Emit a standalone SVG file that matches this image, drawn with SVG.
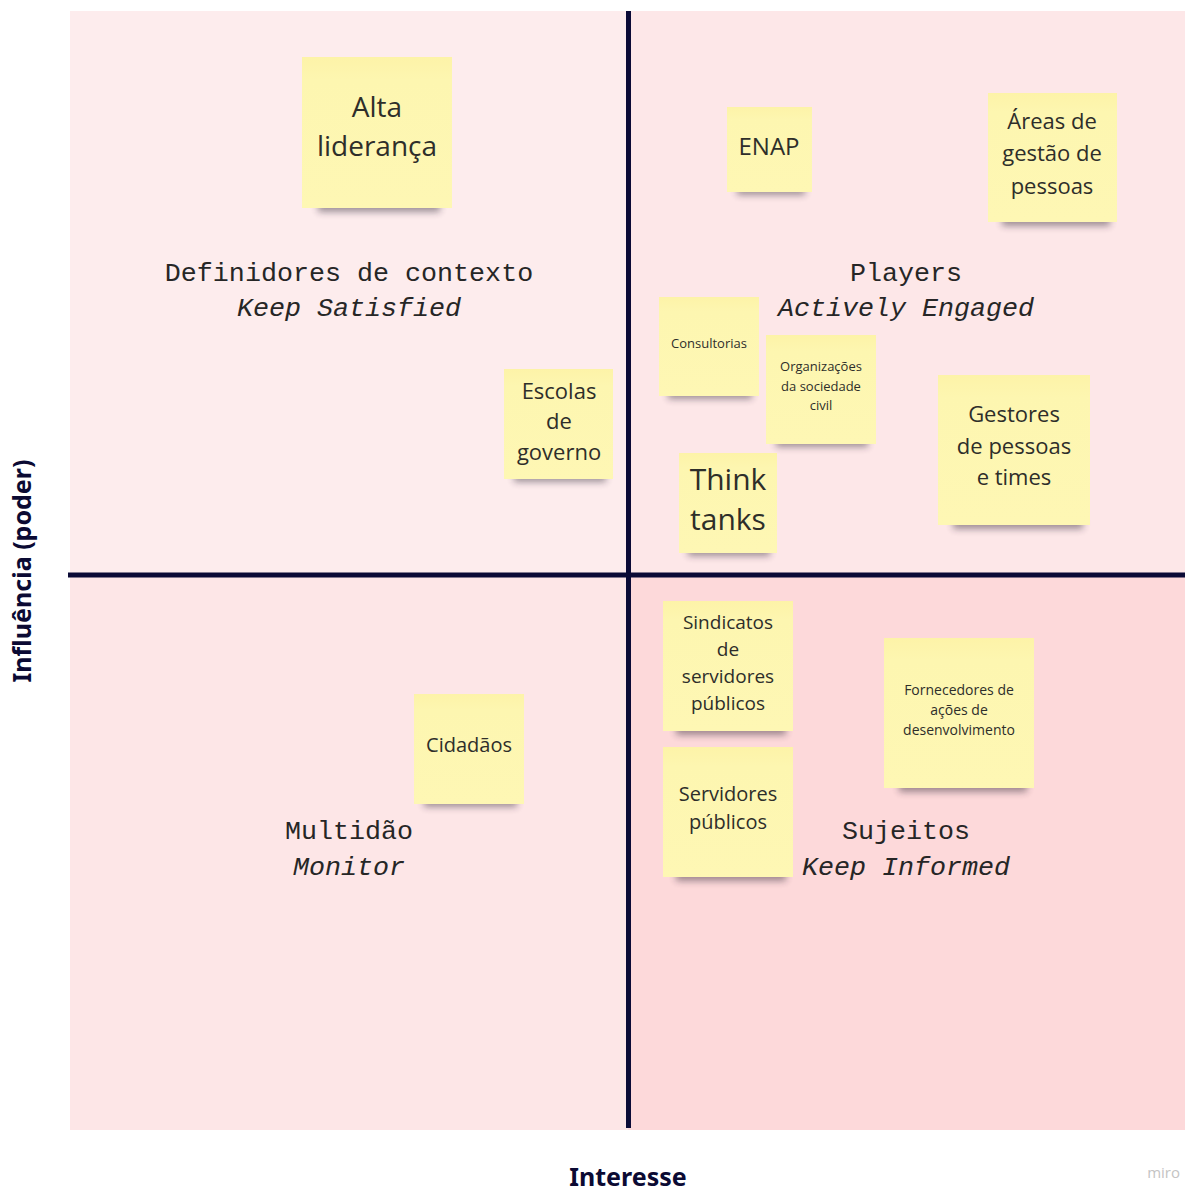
<svg xmlns="http://www.w3.org/2000/svg" width="1185" height="1192" viewBox="0 0 1185 1192">
  <defs>
    <filter id="soft" x="-20%" y="-100%" width="140%" height="300%">
      <feGaussianBlur stdDeviation="3.5"/>
    </filter>
    <linearGradient id="paper" x1="0" y1="0" x2="0" y2="1">
      <stop offset="0" stop-color="#fdf3a8"/>
      <stop offset="0.15" stop-color="#fdf6b0"/>
      <stop offset="1" stop-color="#fef7b4"/>
    </linearGradient>
    <style>
      .note { fill: url(#paper); }
      .shadow { fill: #2a2330; opacity: 0.45; filter: url(#soft); }
      .nt { font-family: "Open Sans", "Noto Sans", sans-serif; fill: #2e2e2a; text-anchor: middle; }
      .ql { font-family: "Liberation Mono", "DejaVu Sans Mono", monospace; font-size: 26.7px; fill: #262626; text-anchor: middle; }
      .qi { font-style: italic; }
      .axis { font-family: "Noto Sans", "Open Sans", sans-serif; font-weight: bold; fill: #0b0a33; text-anchor: middle; }
    </style>
  </defs>

  <rect width="1185" height="1192" fill="#ffffff"/>

  <!-- quadrants -->
  <g id="quadrants">
    <rect x="70" y="11" width="558" height="564" fill="#fdeced"/>
    <rect x="628" y="11" width="557" height="564" fill="#fde7e8"/>
    <rect x="70" y="575" width="558" height="555" fill="#fde6e7"/>
    <rect x="628" y="575" width="557" height="555" fill="#fdd9da"/>
  </g>

  <!-- axes -->
  <g id="axes" stroke="#0b0a36" stroke-width="5">
    <line x1="628.5" y1="11" x2="628.5" y2="1128"/>
    <line x1="68" y1="575" x2="1185" y2="575"/>
  </g>

  <!-- quadrant labels -->
  <g id="label-definidores">
    <text class="ql" x="349" y="281">Definidores de contexto</text>
    <text class="ql qi" x="349" y="316">Keep Satisfied</text>
  </g>
  <g id="label-players">
    <text class="ql" x="906" y="281">Players</text>
    <text class="ql qi" x="906" y="316">Actively Engaged</text>
  </g>
  <g id="label-multidao">
    <text class="ql" x="349" y="839">Multidão</text>
    <text class="ql qi" x="349" y="875">Monitor</text>
  </g>
  <g id="label-sujeitos">
    <text class="ql" x="906" y="839">Sujeitos</text>
    <text class="ql qi" x="906" y="875">Keep Informed</text>
  </g>

  <!-- sticky notes -->
  <g id="note-alta-lideranca">
    <rect class="shadow" x="318" y="200" width="122" height="12"/>
    <rect class="note" x="302" y="57" width="150" height="151"/>
    <text class="nt" x="377" y="117" font-size="28">Alta</text>
    <text class="nt" x="377" y="156" font-size="28">liderança</text>
  </g>

  <g id="note-enap">
    <rect class="shadow" x="737" y="186" width="68" height="9"/>
    <rect class="note" x="727" y="107" width="85" height="85"/>
    <text class="nt" x="769" y="155" font-size="24">ENAP</text>
  </g>

  <g id="note-areas">
    <rect class="shadow" x="1002" y="215" width="108" height="11"/>
    <rect class="note" x="988" y="93" width="129" height="129"/>
    <text class="nt" x="1052" y="129" font-size="22">Áreas de</text>
    <text class="nt" x="1052" y="161" font-size="22">gestão de</text>
    <text class="nt" x="1052" y="194" font-size="22">pessoas</text>
  </g>

  <g id="note-consultorias">
    <rect class="shadow" x="668" y="389" width="84" height="10"/>
    <rect class="note" x="659" y="297" width="100" height="99"/>
    <text class="nt" x="709" y="348" font-size="13">Consultorias</text>
  </g>

  <g id="note-organizacoes">
    <rect class="shadow" x="776" y="437" width="92" height="10"/>
    <rect class="note" x="766" y="335" width="110" height="109"/>
    <text class="nt" x="821" y="371" font-size="13">Organizações</text>
    <text class="nt" x="821" y="391" font-size="13">da sociedade</text>
    <text class="nt" x="821" y="410" font-size="13">civil</text>
  </g>

  <g id="note-escolas">
    <rect class="shadow" x="514" y="472" width="92" height="10"/>
    <rect class="note" x="504" y="369" width="109" height="110"/>
    <text class="nt" x="559" y="399" font-size="22">Escolas</text>
    <text class="nt" x="559" y="429" font-size="22">de</text>
    <text class="nt" x="559" y="460" font-size="22">governo</text>
  </g>

  <g id="note-think-tanks">
    <rect class="shadow" x="688" y="546" width="82" height="10"/>
    <rect class="note" x="679" y="453" width="98" height="100"/>
    <text class="nt" x="728" y="490" font-size="30">Think</text>
    <text class="nt" x="728" y="530" font-size="30">tanks</text>
  </g>

  <g id="note-gestores">
    <rect class="shadow" x="953" y="517" width="130" height="12"/>
    <rect class="note" x="938" y="375" width="152" height="150"/>
    <text class="nt" x="1014" y="422" font-size="22">Gestores</text>
    <text class="nt" x="1014" y="454" font-size="22">de pessoas</text>
    <text class="nt" x="1014" y="485" font-size="22">e times</text>
  </g>

  <g id="note-sindicatos">
    <rect class="shadow" x="676" y="724" width="110" height="11"/>
    <rect class="note" x="663" y="601" width="130" height="130"/>
    <text class="nt" x="728" y="629" font-size="19">Sindicatos</text>
    <text class="nt" x="728" y="656" font-size="19">de</text>
    <text class="nt" x="728" y="683" font-size="19">servidores</text>
    <text class="nt" x="728" y="710" font-size="19">públicos</text>
  </g>

  <g id="note-fornecedores">
    <rect class="shadow" x="899" y="780" width="128" height="12"/>
    <rect class="note" x="884" y="638" width="150" height="150"/>
    <text class="nt" x="959" y="695" font-size="14">Fornecedores de</text>
    <text class="nt" x="959" y="715" font-size="14">ações de</text>
    <text class="nt" x="959" y="735" font-size="14">desenvolvimento</text>
  </g>

  <g id="note-servidores">
    <rect class="shadow" x="676" y="870" width="110" height="11"/>
    <rect class="note" x="663" y="747" width="130" height="130"/>
    <text class="nt" x="728" y="801" font-size="20">Servidores</text>
    <text class="nt" x="728" y="829" font-size="20">públicos</text>
  </g>

  <g id="note-cidadaos">
    <rect class="shadow" x="424" y="797" width="93" height="10"/>
    <rect class="note" x="414" y="694" width="110" height="110"/>
    <text class="nt" x="469" y="752" font-size="20">Cidadãos</text>
  </g>

  <!-- axis titles -->
  <g id="axis-titles">
    <text class="axis" x="628" y="1186" font-size="25">Interesse</text>
    <text class="axis" font-size="25" transform="translate(31 571) rotate(-90)">Influência (poder)</text>
  </g>

  <text x="1180" y="1178" font-family="Open Sans, sans-serif" font-size="15" fill="#c4c4c4" text-anchor="end">miro</text>
</svg>
